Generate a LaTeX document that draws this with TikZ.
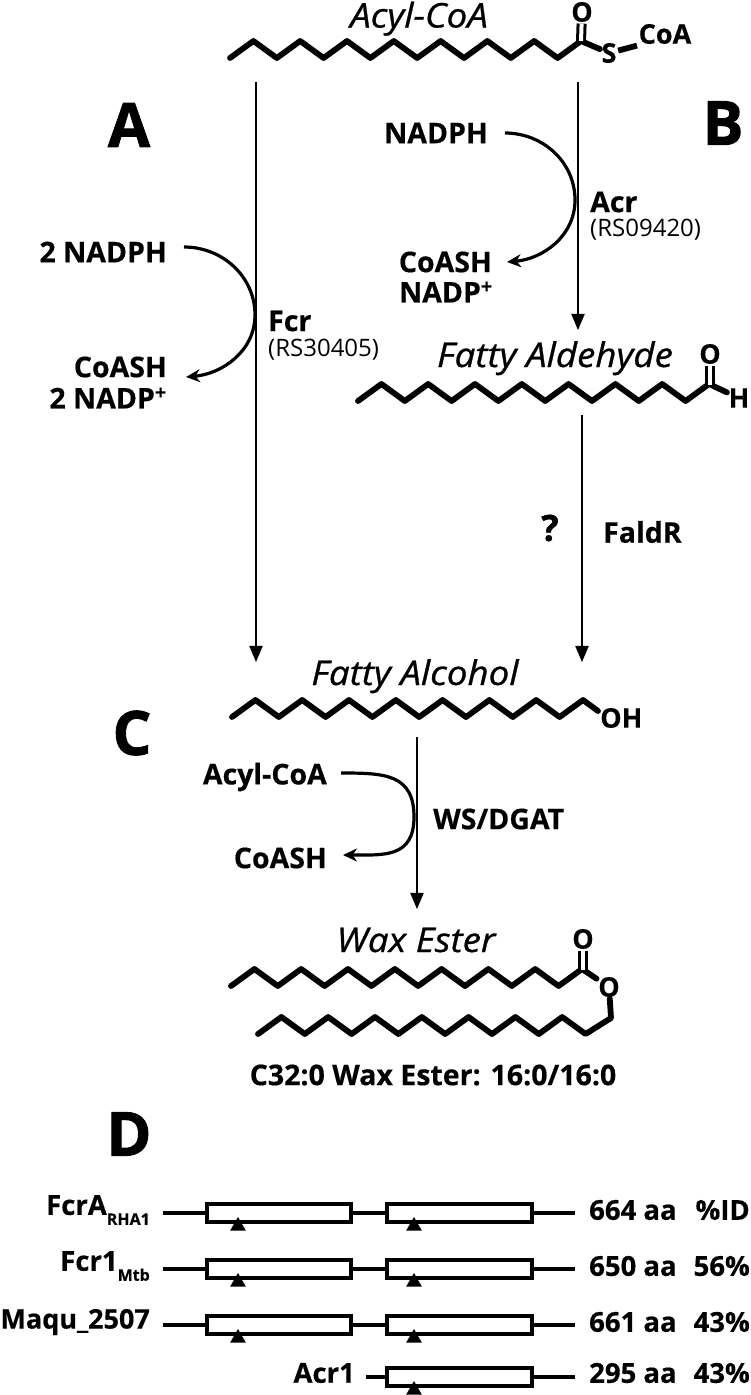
\documentclass[tikz,border=0pt]{standalone}
\usepackage{fontspec}
\setmainfont[BoldFeatures={FakeBold=0.4}]{Open Sans}
\newfontfamily\panelfont[BoldFeatures={FakeBold=1.4}]{Open Sans}
\newfontfamily\speciesfont[FakeStretch=1.08,ItalicFeatures={FakeBold=0.8}]{Open Sans}
\usetikzlibrary{arrows,arrows.meta,shapes.geometric}

\begin{document}
\begin{tikzpicture}[x=1pt,y=-1pt,
    bond/.style={line width=5.8pt,line cap=round,line join=round},
    carbonyl/.style={line width=3pt,double,double distance=4pt},
    atom/.style={font=\fontsize{27}{27}\selectfont\bfseries,inner sep=1.5pt},
    species/.style={font=\fontsize{34}{34}\speciesfont\itshape,inner sep=0pt,anchor=base},
    panel/.style={font=\fontsize{61}{61}\panelfont\bfseries,inner sep=0pt},
    cofactor/.style={font=\fontsize{28.5}{28.5}\selectfont\bfseries,inner xsep=17pt,inner ysep=0pt,anchor=east},
    enzyme/.style={font=\fontsize{28.5}{28.5}\selectfont\bfseries,inner sep=0pt,anchor=west},
    locus/.style={font=\fontsize{24}{24}\selectfont,inner sep=0pt,anchor=west},
    rowlabel/.style={font=\fontsize{27.5}{27.5}\selectfont\bfseries,inner sep=0pt},
    flow/.style={line width=2.8pt,-triangle 45},
    side/.style={line width=3.2pt,-{Stealth[length=14pt,width=13pt]}},
    stem/.style={line width=3.6pt},
    genebox/.style={draw,line width=3.6pt,fill=white,inner sep=0pt,minimum height=18pt},
    site/.style={regular polygon,regular polygon sides=3,fill=black,inner sep=0pt,minimum size=18pt}
]
    \useasboundingbox (0,0) rectangle (750,1395);

    % panel letters
    \node[panel] (panela) at (129,125) {A};
    \node[panel] (panelb) at (723,123) {B};
    \node[panel] (panelc) at (132,733) {C};
    \node[panel] (paneld) at (129,1134) {D};

    % acyl-coa
    \node[species] (acylcoa) at (419,27.5) {Acyl-CoA};
    \node[atom] (oacyl) at (582,12) {O};
    \node[atom] (sacyl) at (609,53) {S};
    \node[atom,anchor=west] (coa) at (637,34) {CoA};
    \coordinate (cacyl) at (581,41);
    \draw[bond] (230,58) foreach \n in {1,...,15} {-- ++(23.4,{ifthenelse(isodd(\n),-17,17)})} -- (sacyl);
    \draw[carbonyl] (cacyl) -- (oacyl);
    \draw[bond,line cap=butt] (sacyl) -- (coa.south west);

    % fatty aldehyde
    \node[species] (aldehyde) at (555,367) {Fatty Aldehyde};
    \node[atom] (oald) at (710,354) {O};
    \node[atom] (hald) at (739,398) {H};
    \coordinate (cald) at (710,385);
    \draw[bond] (358,401) foreach \n in {1,...,15} {-- ++(23.4,{ifthenelse(isodd(\n),-17,17)})} -- (hald);
    \draw[carbonyl] (cald) -- (oald);

    % fatty alcohol
    \node[species] (alcohol) at (415,685) {Fatty Alcohol};
    \node[atom,anchor=west,inner sep=0pt] (ohalc) at (600,718) {OH};
    \draw[bond] (232,717) foreach \n in {1,...,15} {-- ++(23.4,{ifthenelse(isodd(\n),-17,17)})} -- (598,711);

    % wax ester
    \node[species] (waxester) at (416,952) {Wax Ester};
    \node[atom] (owax) at (583,939) {O};
    \node[atom] (oester) at (609,987) {O};
    \coordinate (cwax) at (583,970);
    \draw[bond] (231,986) foreach \n in {1,...,15} {-- ++(23.4,{ifthenelse(isodd(\n),-17,17)})} -- (oester);
    \draw[carbonyl] (cwax) -- (owax);
    \draw[bond] (258,1034) foreach \n in {1,...,14} {-- ++(23.4,{ifthenelse(isodd(\n),-17,17)})} -- (611,1018) -- (oester);
    \node[rowlabel,font=\fontsize{28.5}{28.5}\selectfont\bfseries] (waxname) at (433,1075) {C32:0 Wax Ester: 16:0/16:0};

    % main arrows
    \coordinate (fcrtop) at (256,82);
    \coordinate (fcrend) at (256,662);
    \coordinate (acrtop) at (578,82);
    \coordinate (acrend) at (578,330);
    \coordinate (faldtop) at (582,415);
    \coordinate (faldend) at (582,662);
    \coordinate (wstop) at (417,737);
    \coordinate (wsend) at (417,909);
    \draw[flow] (fcrtop) -- (fcrend);
    \draw[flow] (acrtop) -- (acrend);
    \draw[flow] (faldtop) -- (faldend);
    \draw[flow] (wstop) -- (wsend);

    % branch a
    \node[cofactor] (nadpha) at (184,252) {2 NADPH};
    \node[cofactor] (coasha) at (184,367) {CoASH};
    \node[cofactor,inner xsep=0pt] (nadpa) at (167,398) {2 NADP\textsuperscript{+}};
    \coordinate (turna) at (255,315);
    \draw[side] ([yshift=5pt]nadpha.east) to[out=0,in=90] (turna) to[out=-90,in=5] ([xshift=2pt,yshift=-10pt]coasha.east);
    \node[enzyme] (fcr) at (268,321) {Fcr};
    \node[locus] (fcrlocus) at (268,350) {(RS30405)};

    % branch b
    \node[cofactor] (nadphb) at (505,133) {NADPH};
    \node[cofactor] (coashb) at (509,262) {CoASH};
    \node[cofactor,inner xsep=0pt] (nadpb) at (493,292) {NADP\textsuperscript{+}};
    \coordinate (turnb) at (575,200);
    \draw[side] (nadphb.east) to[out=0,in=90] (turnb) to[out=-90,in=5] ([xshift=-2pt]coashb.east);
    \node[enzyme] (acr) at (590,202) {Acr};
    \node[locus] (acrlocus) at (590,230) {(RS09420)};

    % aldehyde reduction
    \node[rowlabel,font=\fontsize{36}{36}\panelfont\bfseries] (unknown) at (550,528) {?};
    \node[enzyme] (faldr) at (603,532) {FaldR};

    % ester formation
    \node[cofactor] (acylin) at (344,777) {Acyl-CoA};
    \node[cofactor] (coashc) at (344,858) {CoASH};
    \coordinate (turnc) at (414,817);
    \draw[side] ([xshift=-3pt,yshift=4pt]acylin.east) to[out=0,in=90,looseness=1.3] (turnc) to[out=-90,in=0,looseness=1.3] ([xshift=-1pt,yshift=3pt]coashc.east);
    \node[enzyme] (wsdgat) at (433,819) {WS/DGAT};

    % protein rows
    \foreach \n/\y in {1/1213,2/1269,3/1325} {
        \node[genebox,minimum width=144pt] (boxa\n) at (279,\y) {};
        \coordinate (starta\n) at (163,\y);
        \draw[stem] (starta\n) -- (boxa\n.west);
        \node[site] (sitea\n) at (238,\y+13) {};
    }
    \foreach \n/\y in {1/1213,2/1269,3/1325,4/1377} {
        \node[genebox,minimum width=145pt] (boxb\n) at (459.5,\y) {};
        \coordinate (endb\n) at (575,\y);
        \draw[stem] (boxb\n.east) -- (endb\n);
        \node[site] (siteb\n) at (414,\y+13) {};
    }
    \draw[stem] (boxa1.east) -- (boxb1.west);
    \draw[stem] (boxa2.east) -- (boxb2.west);
    \draw[stem] (boxa3.east) -- (boxb3.west);
    \coordinate (startb4) at (366,1377);
    \draw[stem] (startb4) -- (boxb4.west);

    % protein labels
    \node[rowlabel,anchor=east] (fcra) at (150,1210) {FcrA\raisebox{-10pt}{\fontsize{16}{16}\selectfont RHA1}};
    \node[rowlabel,anchor=east] (fcrone) at (150,1266) {Fcr1\raisebox{-10pt}{\fontsize{16}{16}\selectfont Mtb}};
    \node[rowlabel,anchor=east,font=\fontsize{27}{27}\selectfont\bfseries] (maqu) at (150,1322) {Maqu\_2507};
    \node[rowlabel,anchor=east] (acrone) at (355,1373) {Acr1};
    \foreach \n/\y/\len/\pid in {1/1210/664/\%ID,2/1266/650/56\%,3/1322/661/43\%,4/1373/295/43\%} {
        \node[rowlabel,anchor=west] (len\n) at (589,\y) {\len{} aa};
        \node[rowlabel,anchor=east] (pid\n) at (750,\y) {\pid};
    }
\end{tikzpicture}
\end{document}
